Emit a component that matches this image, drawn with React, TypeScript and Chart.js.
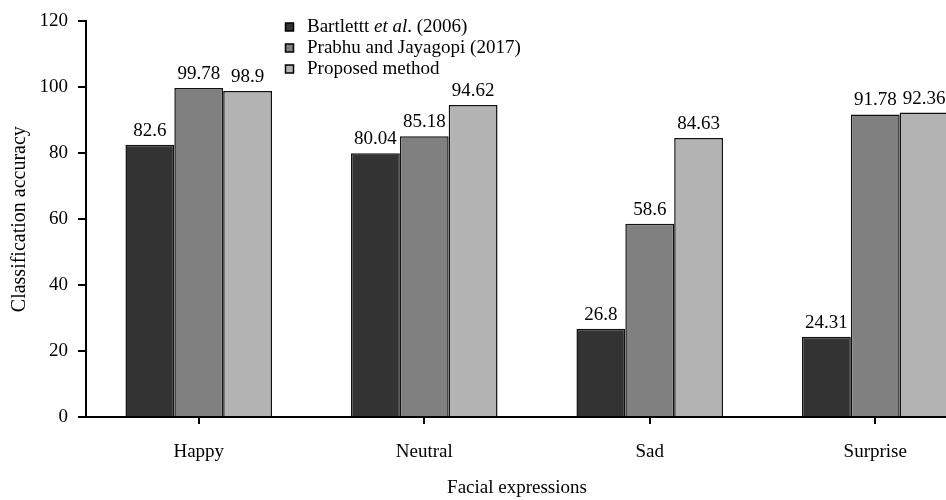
import React, { useEffect, useRef } from "react";
import { Chart, registerables } from "chart.js";

Chart.register(...registerables);

const categories = ["Happy", "Neutral", "Sad", "Surprise"];
const seriesLabels = ["Bartlettt et al. (2006)", "Prabhu and Jayagopi (2017)", "Proposed method"];
const bartlett = [82.6, 80.04, 26.8, 24.31];
const prabhu = [99.78, 85.18, 58.6, 91.78];
const proposed = [98.9, 94.62, 84.63, 92.36];
const seriesColors = ["#333333", "#808080", "#b3b3b3"];
const yTicks = [0, 20, 40, 60, 80, 100, 120];
const xTitle = "Facial expressions";
const yTitle = "Classification accuracy";

const FONT = "'Liberation Serif', 'Times New Roman', serif";
const FS = 19;

const valueLabels = {
  id: "valueLabels",
  afterDatasetsDraw(chart: any) {
    const ctx = chart.ctx;
    ctx.save();
    ctx.font = `${FS}px ${FONT}`;
    ctx.fillStyle = "#000";
    ctx.textAlign = "center";
    ctx.textBaseline = "alphabetic";
    chart.data.datasets.forEach((ds: any, i: number) => {
      const meta = chart.getDatasetMeta(i);
      meta.data.forEach((el: any, j: number) => {
        ctx.fillText(String(ds.data[j]), el.x, el.y - 9);
      });
    });
    ctx.restore();
  },
};

const extras = {
  id: "extras",
  afterDraw(chart: any) {
    const ctx = chart.ctx;
    ctx.save();
    // x-axis title
    ctx.font = `${FS}px ${FONT}`;
    ctx.fillStyle = "#000";
    ctx.textAlign = "center";
    ctx.textBaseline = "alphabetic";
    ctx.fillText(xTitle, 517, 493);
    // legend
    const x0 = 285.5;
    const rows = [27, 48, 69];
    chart.data.datasets.forEach((ds: any, i: number) => {
      const y = rows[i];
      ctx.fillStyle = ds.backgroundColor;
      ctx.fillRect(x0, y - 4, 8, 8);
      ctx.strokeStyle = "#000";
      ctx.lineWidth = 1.5;
      ctx.strokeRect(x0, y - 4, 8, 8);
      ctx.fillStyle = "#000";
      ctx.textBaseline = "middle";
      ctx.textAlign = "left";
      const label: string = ds.label;
      const idx = label.indexOf("et al.");
      let x = 307;
      if (idx >= 0) {
        const parts = [
          { t: label.slice(0, idx), it: false },
          { t: "et al", it: true },
          { t: label.slice(idx + 5), it: false },
        ];
        parts.forEach((p) => {
          ctx.font = `${p.it ? "italic " : ""}${FS}px ${FONT}`;
          ctx.fillText(p.t, x, y);
          x += ctx.measureText(p.t).width;
        });
      } else {
        ctx.font = `${FS}px ${FONT}`;
        ctx.fillText(label, x, y);
      }
    });
    ctx.restore();
  },
};

export default function App() {
  const ref = useRef<HTMLCanvasElement>(null);
  useEffect(() => {
    if (!ref.current) return;
    const data = [bartlett, prabhu, proposed];
    const chart = new Chart(ref.current, {
      type: "bar",
      data: {
        labels: categories,
        datasets: data.map((d, i) => ({
          label: seriesLabels[i],
          data: d,
          backgroundColor: seriesColors[i],
          borderColor: "#111",
          borderWidth: 1.5,
          categoryPercentage: 0.65,
          barPercentage: 1.0,
        })),
      },
      options: {
        animation: false,
        responsive: false,
        layout: { padding: { left: 0, right: 12, top: 15, bottom: 0 } },
        plugins: { legend: { display: false }, tooltip: { enabled: false } },
        scales: {
          x: {
            afterFit: (s: any) => {
              s.height = 83;
            },
            grid: {
              display: true,
              drawOnChartArea: false,
              drawTicks: true,
              tickLength: 7,
              color: "#000",
              lineWidth: 2,
              offset: false,
            },
            border: { display: true, color: "#000", width: 2 },
            ticks: { color: "#000", font: { family: FONT, size: FS }, padding: 17 },
          },
          y: {
            min: 0,
            max: 120,
            afterFit: (s: any) => {
              s.width = 86;
            },
            afterBuildTicks: (s: any) => {
              s.ticks = yTicks.map((v) => ({ value: v }));
            },
            grid: {
              display: true,
              drawOnChartArea: false,
              drawTicks: true,
              tickLength: 8,
              color: "#000",
              lineWidth: 2,
            },
            border: { display: true, color: "#000", width: 2 },
            ticks: { color: "#000", font: { family: FONT, size: FS }, padding: 10 },
            title: {
              display: true,
              text: yTitle,
              color: "#000",
              font: { family: FONT, size: 20 },
              padding: { top: 8, bottom: 0 },
            },
          },
        },
      },
      plugins: [valueLabels, extras],
    });
    return () => chart.destroy();
  }, []);
  return (
    <div
      style={{
        position: "fixed",
        left: 0,
        top: 0,
        width: 946,
        height: 500,
        overflow: "hidden",
        background: "#fff",
      }}
    >
      <canvas ref={ref} width={1000} height={500} style={{ width: 1000, height: 500, display: "block" }} />
    </div>
  );
}
